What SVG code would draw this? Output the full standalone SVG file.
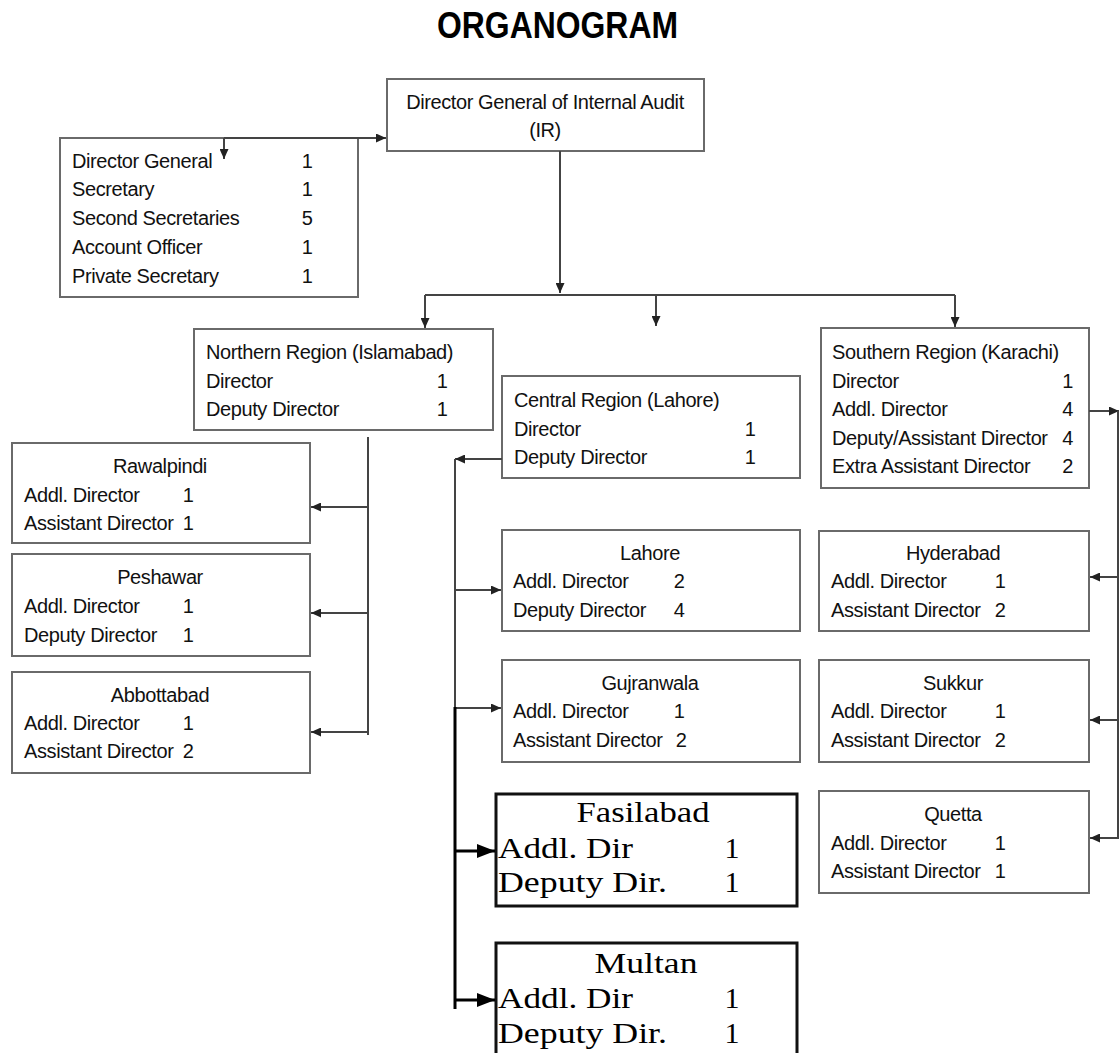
<svg xmlns="http://www.w3.org/2000/svg" width="1119" height="1053" viewBox="0 0 1119 1053">
<defs>
<marker id="arr" markerUnits="userSpaceOnUse" markerWidth="10" markerHeight="9" refX="10" refY="4.5" orient="auto"><path d="M0,0 L10,4.5 L0,9 z" fill="#222"/></marker>
<marker id="arrB" markerUnits="userSpaceOnUse" markerWidth="18" markerHeight="14" refX="18" refY="7" orient="auto"><path d="M0,0 L18,7 L0,14 z" fill="#000"/></marker>
<style>
.box{fill:#fff;stroke:#6a6a6a;stroke-width:2}
.boxB{fill:#fff;stroke:#111;stroke-width:3}
.t{font-family:"Liberation Sans",Arial,sans-serif;font-size:20px;letter-spacing:-0.4px;fill:#111}
.c{text-anchor:middle}
.e{text-anchor:end}
.s{font-family:"Liberation Serif","Times New Roman",serif;font-size:30px;fill:#000}
.ln{fill:none;stroke:#444;stroke-width:2}
.lnB{fill:none;stroke:#000;stroke-width:3}
.title{font-family:"Liberation Sans",Arial,sans-serif;font-size:36px;font-weight:bold;fill:#000}
</style>
</defs>
<rect width="1119" height="1053" fill="#fff"/>
<text class="title" x="437" y="38" textLength="241" lengthAdjust="spacingAndGlyphs">ORGANOGRAM</text>

<g id="dg">
<rect class="box" x="387" y="79" width="317" height="72"/>
<text class="t c" x="545" y="109">Director General of Internal Audit</text>
<text class="t c" x="545" y="137">(IR)</text>
</g>

<g id="dg-office">
<rect class="box" x="60" y="138" width="298" height="159"/>
<text class="t" x="72" y="168">Director General</text><text class="t c" x="307" y="168">1</text>
<text class="t" x="72" y="196">Secretary</text><text class="t c" x="307" y="196">1</text>
<text class="t" x="72" y="225">Second Secretaries</text><text class="t c" x="307" y="225">5</text>
<text class="t" x="72" y="254">Account Officer</text><text class="t c" x="307" y="254">1</text>
<text class="t" x="72" y="283">Private Secretary</text><text class="t c" x="307" y="283">1</text>
</g>

<g id="northern">
<rect class="box" x="194" y="329" width="299" height="101"/>
<text class="t" x="206" y="359">Northern Region (Islamabad)</text>
<text class="t" x="206" y="388">Director</text><text class="t c" x="442" y="388">1</text>
<text class="t" x="206" y="416">Deputy Director</text><text class="t c" x="442" y="416">1</text>
</g>

<g id="central">
<rect class="box" x="502" y="376" width="298" height="102"/>
<text class="t" x="514" y="407">Central Region (Lahore)</text>
<text class="t" x="514" y="436">Director</text><text class="t c" x="750" y="436">1</text>
<text class="t" x="514" y="464">Deputy Director</text><text class="t c" x="750" y="464">1</text>
</g>

<g id="southern">
<rect class="box" x="821" y="328" width="268" height="160"/>
<text class="t" x="832" y="359">Southern Region (Karachi)</text>
<text class="t" x="832" y="388">Director</text><text class="t e" x="1073" y="388">1</text>
<text class="t" x="832" y="416">Addl. Director</text><text class="t e" x="1073" y="416">4</text>
<text class="t" x="832" y="445">Deputy/Assistant Director</text><text class="t e" x="1073" y="445">4</text>
<text class="t" x="832" y="473">Extra Assistant Director</text><text class="t e" x="1073" y="473">2</text>
</g>

<g id="rawalpindi">
<rect class="box" x="12" y="443" width="298" height="100"/>
<text class="t c" x="160" y="473">Rawalpindi</text>
<text class="t" x="24" y="502">Addl. Director</text><text class="t c" x="188" y="502">1</text>
<text class="t" x="24" y="530">Assistant Director</text><text class="t c" x="188" y="530">1</text>
</g>

<g id="peshawar">
<rect class="box" x="12" y="554" width="298" height="102"/>
<text class="t c" x="160" y="584">Peshawar</text>
<text class="t" x="24" y="613">Addl. Director</text><text class="t c" x="188" y="613">1</text>
<text class="t" x="24" y="642">Deputy Director</text><text class="t c" x="188" y="642">1</text>
</g>

<g id="abbottabad">
<rect class="box" x="12" y="672" width="298" height="101"/>
<text class="t c" x="160" y="702">Abbottabad</text>
<text class="t" x="24" y="730">Addl. Director</text><text class="t c" x="188" y="730">1</text>
<text class="t" x="24" y="758">Assistant Director</text><text class="t c" x="188" y="758">2</text>
</g>

<g id="lahore">
<rect class="box" x="502" y="530" width="298" height="101"/>
<text class="t c" x="650" y="560">Lahore</text>
<text class="t" x="513" y="588">Addl. Director</text><text class="t c" x="679" y="588">2</text>
<text class="t" x="513" y="617">Deputy Director</text><text class="t c" x="679" y="617">4</text>
</g>

<g id="gujranwala">
<rect class="box" x="502" y="660" width="298" height="102"/>
<text class="t c" x="650" y="690">Gujranwala</text>
<text class="t" x="513" y="718">Addl. Director</text><text class="t c" x="679" y="718">1</text>
<text class="t" x="513" y="747">Assistant Director</text><text class="t c" x="681" y="747">2</text>
</g>

<g id="fasilabad">
<rect class="boxB" x="496" y="794" width="301" height="112"/>
<text class="s c" x="643" y="822" textLength="133" lengthAdjust="spacingAndGlyphs">Fasilabad</text>
<text class="s" x="498" y="858" textLength="135" lengthAdjust="spacingAndGlyphs">Addl. Dir</text><text class="s c" x="732" y="858">1</text>
<text class="s" x="498" y="892" textLength="169" lengthAdjust="spacingAndGlyphs">Deputy Dir.</text><text class="s c" x="732" y="892">1</text>
</g>

<g id="multan">
<rect class="boxB" x="496" y="943" width="301" height="120"/>
<text class="s c" x="646" y="973" textLength="103" lengthAdjust="spacingAndGlyphs">Multan</text>
<text class="s" x="498" y="1008" textLength="135" lengthAdjust="spacingAndGlyphs">Addl. Dir</text><text class="s c" x="732" y="1008">1</text>
<text class="s" x="498" y="1043" textLength="169" lengthAdjust="spacingAndGlyphs">Deputy Dir.</text><text class="s c" x="732" y="1043">1</text>
</g>

<g id="hyderabad">
<rect class="box" x="819" y="531" width="270" height="100"/>
<text class="t c" x="953" y="560">Hyderabad</text>
<text class="t" x="831" y="588">Addl. Director</text><text class="t c" x="1000" y="588">1</text>
<text class="t" x="831" y="617">Assistant Director</text><text class="t c" x="1000" y="617">2</text>
</g>

<g id="sukkur">
<rect class="box" x="819" y="660" width="270" height="102"/>
<text class="t c" x="953" y="690">Sukkur</text>
<text class="t" x="831" y="718">Addl. Director</text><text class="t c" x="1000" y="718">1</text>
<text class="t" x="831" y="747">Assistant Director</text><text class="t c" x="1000" y="747">2</text>
</g>

<g id="quetta">
<rect class="box" x="819" y="791" width="270" height="102"/>
<text class="t c" x="953" y="821">Quetta</text>
<text class="t" x="831" y="850">Addl. Director</text><text class="t c" x="1000" y="850">1</text>
<text class="t" x="831" y="878">Assistant Director</text><text class="t c" x="1000" y="878">1</text>
</g>

<g id="connectors">
<path class="ln" d="M224,138 H386" marker-end="url(#arr)"/>
<path class="ln" d="M224,138 V159" marker-end="url(#arr)"/>
<path class="ln" d="M560,151 V293" marker-end="url(#arr)"/>
<path class="ln" d="M425,295 H955"/>
<path class="ln" d="M425,295 V328" marker-end="url(#arr)"/>
<path class="ln" d="M656,295 V326" marker-end="url(#arr)"/>
<path class="ln" d="M955,295 V327" marker-end="url(#arr)"/>
<path class="ln" d="M368,437 V735"/>
<path class="ln" d="M368,507 H311" marker-end="url(#arr)"/>
<path class="ln" d="M368,613 H311" marker-end="url(#arr)"/>
<path class="ln" d="M368,732 H311" marker-end="url(#arr)"/>
<path class="ln" d="M502,459 H455" marker-end="url(#arr)"/>
<path class="ln" d="M455,459 V708"/>
<path class="ln" d="M455,590 H501" marker-end="url(#arr)"/>
<path class="ln" d="M455,708 H501" marker-end="url(#arr)"/>
<path class="lnB" d="M455,707 V1009"/>
<path class="lnB" d="M456,851 H495" marker-end="url(#arrB)"/>
<path class="lnB" d="M456,1000 H495" marker-end="url(#arrB)"/>
<path class="ln" d="M1089,411 H1119" marker-end="url(#arr)"/>
<path class="ln" d="M1118,411 V838" stroke="#bbb"/>
<path class="ln" d="M1119,577 H1090" marker-end="url(#arr)"/>
<path class="ln" d="M1119,720 H1090" marker-end="url(#arr)"/>
<path class="ln" d="M1119,838 H1090" marker-end="url(#arr)"/>
</g>
</svg>
